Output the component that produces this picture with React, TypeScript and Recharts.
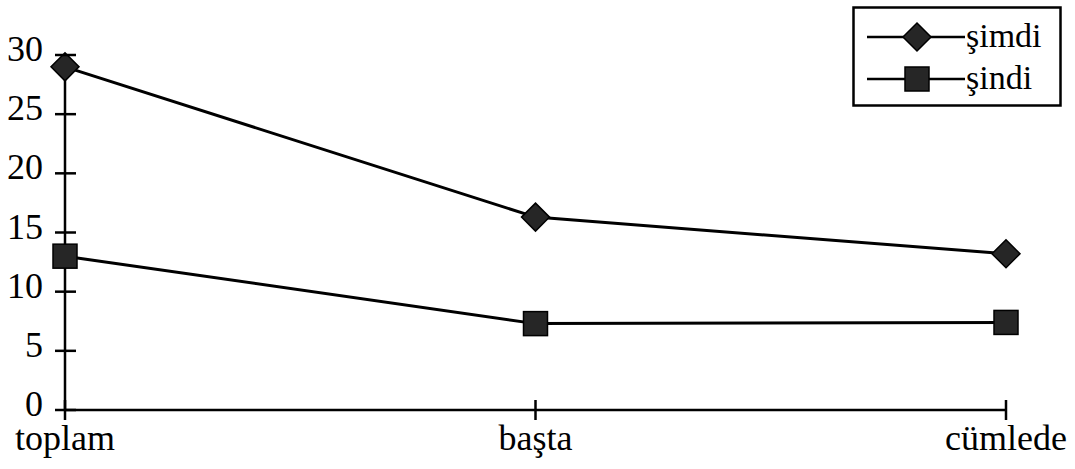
import React from 'react';
import { LineChart, Line, XAxis, YAxis, Legend } from 'recharts';

const categories = ['toplam', 'başta', 'cümlede'];
const simdiValues = [29, 16.3, 13.2];
const sindiValues = [13, 7.3, 7.4];
const yTicks = [0, 5, 10, 15, 20, 25, 30];

const data = categories.map((name, i) => ({
  name,
  simdi: simdiValues[i],
  sindi: sindiValues[i],
}));

const FONT = '"Liberation Serif", "DejaVu Serif", serif';
const INK = '#000';
const MARK_FILL = '#262626';

const Diamond = ({ cx, cy, r = 14 }: { cx: number; cy: number; r?: number }) => (
  <polygon
    points={`${cx},${cy - r} ${cx + r},${cy} ${cx},${cy + r} ${cx - r},${cy}`}
    fill={MARK_FILL}
    stroke={INK}
    strokeWidth={1.5}
  />
);

const Square = ({ cx, cy, s = 12 }: { cx: number; cy: number; s?: number }) => (
  <rect x={cx - s} y={cy - s} width={s * 2} height={s * 2} fill={MARK_FILL} stroke={INK} strokeWidth={1.5} />
);

const series = [
  { key: 'simdi', label: 'şimdi', Marker: Diamond },
  { key: 'sindi', label: 'şindi', Marker: Square },
];

const YTick = ({ x, y, payload }: any) => (
  <g>
    <line x1={x - 10} x2={x + 11} y1={y} y2={y} stroke={INK} strokeWidth={2.5} />
    <text x={x - 22} y={y + 6} textAnchor="end" fontSize={36} fontFamily={FONT} fill={INK}>
      {payload.value}
    </text>
  </g>
);

const XTick = ({ x, y, payload }: any) => (
  <g>
    <line x1={x} x2={x} y1={y - 10} y2={y + 10} stroke={INK} strokeWidth={2.5} />
    <text x={x} y={y + 40} textAnchor="middle" fontSize={36} fontFamily={FONT} fill={INK}>
      {payload.value}
    </text>
  </g>
);

const LegendBox = () => (
  <svg width={210} height={101}>
    <rect x={1.5} y={1.5} width={207} height={98} fill="#fff" stroke={INK} strokeWidth={2.5} />
    {series.map((s, i) => {
      const cy = 31 + i * 42;
      return (
        <g key={s.key}>
          <line x1={15} x2={113} y1={cy} y2={cy} stroke={INK} strokeWidth={2.5} />
          <s.Marker cx={65} cy={cy} />
          <text x={114} y={cy + 10} fontSize={34} fontFamily={FONT} fill={INK}>
            {s.label}
          </text>
        </g>
      );
    })}
  </svg>
);

export default function App() {
  return (
    <div style={{ position: 'absolute', left: 0, top: 0, background: '#fff' }}>
      <LineChart
        width={1075}
        height={469}
        data={data}
        margin={{ top: 55, right: 69, bottom: 0, left: 0 }}
      >
        <XAxis
          dataKey="name"
          interval={0}
          tickSize={0}
          tickMargin={0}
          tickLine={false}
          tick={<XTick />}
          axisLine={{ stroke: INK, strokeWidth: 2.5 }}
          height={59}
        />
        <YAxis
          domain={[0, 30]}
          ticks={yTicks}
          interval={0}
          width={65}
          tickSize={0}
          tickMargin={0}
          tickLine={false}
          tick={<YTick />}
          axisLine={{ stroke: INK, strokeWidth: 2.5 }}
        />
        <Legend
          layout="vertical"
          align="center"
          verticalAlign="middle"
          content={<LegendBox />}
          wrapperStyle={{ left: 852, top: 6, width: 210, height: 101 }}
        />
        {series.map((s) => (
          <Line
            key={s.key}
            dataKey={s.key}
            name={s.label}
            stroke={INK}
            strokeWidth={3}
            isAnimationActive={false}
            dot={(p: any) => <s.Marker key={`${s.key}-${p.index}`} cx={p.cx} cy={p.cy} />}
            activeDot={false}
          />
        ))}
      </LineChart>
    </div>
  );
}
